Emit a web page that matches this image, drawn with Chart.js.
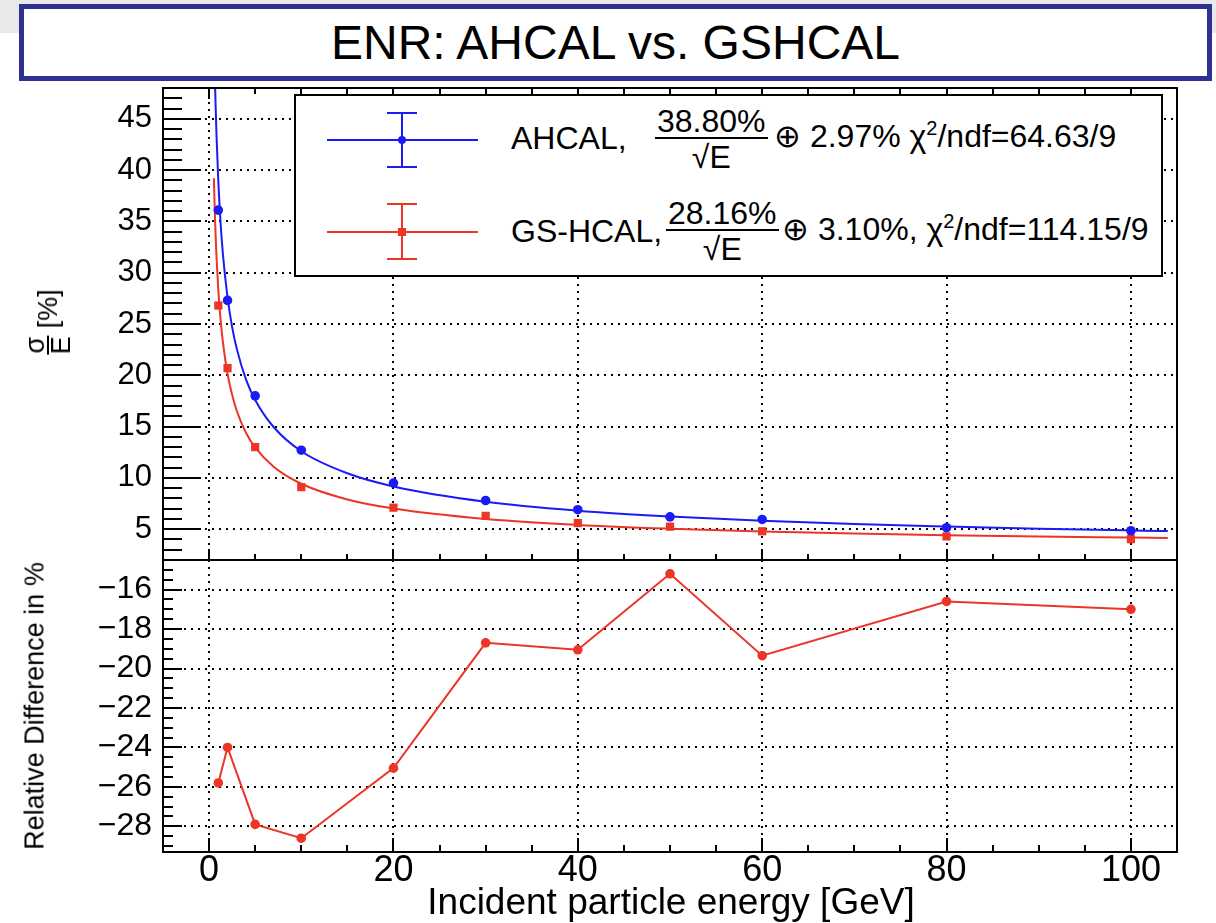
<!DOCTYPE html>
<html>
<head>
<meta charset="utf-8">
<script src="https://cdn.jsdelivr.net/npm/chart.js@4.4.1/dist/chart.umd.min.js"></script>
<style>
  html, body { margin:0; padding:0; background:#fff; }
  body { width:1216px; height:923px; position:relative; overflow:hidden; font-family:'Liberation Sans', Arial, sans-serif; color:#000; }
  #band { position:absolute; left:0; top:0; width:1216px; height:33px; background:#e9e9e9; }
  #titlebox { position:absolute; left:19px; top:4px; width:1193px; height:77px; box-sizing:border-box; border:5px solid #2e3192; background:#fff;
    text-align:center; font-size:48px; line-height:67px; white-space:nowrap; }
  canvas { position:absolute; left:0; top:0; }
  #legend { position:absolute; left:294px; top:94px; width:869px; height:183px; box-sizing:border-box; border:2px solid #000; background:#fff; z-index:5; }
  .abs { position:absolute; }
  .txt { position:absolute; font-size:32px; line-height:32px; white-space:nowrap; transform:translateY(-50%); }
  .frac { position:absolute; display:flex; flex-direction:column; align-items:center; font-size:32px; line-height:32px; }
  .frac .num { border-bottom:2.5px solid #000; padding:0 2px; }
  .frac .den { padding-top:2px; }
  .sup { font-size:20px; position:relative; top:-12px; }
  #ytitle1 { position:absolute; left:48px; top:322px; transform:translate(-50%,-50%) rotate(-90deg); display:flex; align-items:center; white-space:nowrap; font-size:27px; z-index:5; }
  #ytitle1 .f { display:flex; flex-direction:column; align-items:center; line-height:24px; }
  #ytitle1 .f .n { border-bottom:2px solid #000; padding:0 1px; }
  #ytitle2 { position:absolute; left:35px; top:706px; transform:translate(-50%,-50%) rotate(-90deg); white-space:nowrap; font-size:27px; line-height:27px; }
  #xtitle { position:absolute; left:671px; top:901px; transform:translate(-50%,-50%); white-space:nowrap; font-size:37px; line-height:37px; }
</style>
</head>
<body>
<div id="band"></div>
<div id="titlebox">ENR: AHCAL vs. GSHCAL</div>
<canvas id="cTop" width="1216" height="923"></canvas>
<canvas id="cBot" width="1216" height="923"></canvas>

<div id="legend">
  <!-- AHCAL symbol -->
  <div class="abs" style="left:31px;top:43px;width:151px;height:2px;background:#1b1bf5"></div>
  <div class="abs" style="left:105px;top:17px;width:2px;height:54px;background:#1b1bf5"></div>
  <div class="abs" style="left:91px;top:16px;width:30px;height:2px;background:#1b1bf5"></div>
  <div class="abs" style="left:91px;top:70px;width:30px;height:2px;background:#1b1bf5"></div>
  <div class="abs" style="left:102px;top:40px;width:8px;height:8px;border-radius:50%;background:#1b1bf5"></div>
  <div class="txt" style="left:215px;top:42px">AHCAL,</div>
  <div class="frac" style="left:359px;top:9px"><span class="num">38.80%</span><span class="den">√E</span></div>
  <div class="txt" style="left:478px;top:42px">⊕ 2.97% χ<span class="sup">2</span>/ndf=64.63/9</div>
  <!-- GS-HCAL symbol -->
  <div class="abs" style="left:31px;top:135px;width:151px;height:2px;background:#ec3427"></div>
  <div class="abs" style="left:105px;top:108px;width:2px;height:55px;background:#ec3427"></div>
  <div class="abs" style="left:91px;top:107px;width:30px;height:2px;background:#ec3427"></div>
  <div class="abs" style="left:91px;top:162px;width:30px;height:2px;background:#ec3427"></div>
  <div class="abs" style="left:102px;top:132px;width:8px;height:8px;background:#ec3427"></div>
  <div class="txt" style="left:215px;top:135px">GS-HCAL,</div>
  <div class="frac" style="left:370px;top:101px"><span class="num">28.16%</span><span class="den">√E</span></div>
  <div class="txt" style="left:486px;top:135px">⊕ 3.10%, χ<span class="sup">2</span>/ndf=114.15/9</div>
</div>

<div id="ytitle1"><span class="f"><span class="n">σ</span><span>E</span></span><span>&nbsp;[%]</span></div>
<div id="ytitle2">Relative Difference in %</div>
<div id="xtitle">Incident particle energy [GeV]</div>

<script>
// ---- data ----
const energies  = [1, 2, 5, 10, 20, 30, 40, 50, 60, 80, 100];
const ahcal     = [36.1, 27.3, 18.0, 12.7, 9.5, 7.8, 6.9, 6.2, 5.95, 5.15, 4.85];
const gshcal    = [26.8, 20.7, 13.0, 9.1, 7.1, 6.3, 5.6, 5.25, 4.8, 4.3, 4.03];
const relDiff   = [-25.8, -24.0, -27.9, -28.6, -25.05, -18.7, -19.05, -15.2, -19.35, -16.6, -17.0];

// fit curves
const fitEnergy = [0.52, 0.62, 0.7, 0.8, 1, 1.25, 1.5, 2, 2.5, 3, 4, 5, 7, 10, 15, 20, 30, 40, 50, 60, 70, 80, 90, 100, 104];
const ahcalFit  = [53.9, 49.4, 46.5, 43.5, 38.9, 34.8, 31.8, 27.6, 24.7, 22.6, 19.6, 17.6, 14.96, 12.6, 10.45, 9.17, 7.68, 6.81, 6.24, 5.82, 5.5, 5.26, 5.05, 4.88, 4.82];
const gshcalFit = [39.2, 35.9, 33.8, 31.6, 28.3, 25.4, 23.2, 20.15, 18.1, 16.55, 14.4, 12.97, 11.09, 9.43, 7.9, 7.02, 6.0, 5.42, 5.05, 4.78, 4.58, 4.42, 4.29, 4.19, 4.15];

// tick labels
const xTicks     = [0, 20, 40, 60, 80, 100];
const upperTicks = [5, 10, 15, 20, 25, 30, 35, 40, 45];
const lowerTicks = [-28, -26, -24, -22, -20, -18, -16];

const BLUE = '#1b1bf5';
const RED  = '#ec3427';
const FONT = "'Liberation Sans', Arial, sans-serif";

const pts = (xs, ys) => xs.map((x, i) => ({x, y: ys[i]}));

const rootAxes = {
  id: 'rootAxes',
  beforeDatasetsDraw(chart, args, o) {
    const {ctx, chartArea: a, scales: {x, y}} = chart;
    ctx.save();
    ctx.strokeStyle = '#000'; ctx.lineWidth = 2; ctx.setLineDash([2, 5]);
    for (const v of o.xGrid) {
      const p = Math.round(x.getPixelForValue(v));
      ctx.beginPath(); ctx.moveTo(p, a.top); ctx.lineTo(p, a.bottom); ctx.stroke();
    }
    for (const v of o.yGrid) {
      const p = Math.round(y.getPixelForValue(v));
      ctx.beginPath(); ctx.moveTo(a.left, p); ctx.lineTo(a.right, p); ctx.stroke();
    }
    ctx.restore();
  },
  afterDatasetsDraw(chart, args, o) {
    const {ctx, chartArea: a, scales: {x, y}} = chart;
    ctx.save();
    ctx.strokeStyle = '#000'; ctx.lineWidth = 2; ctx.setLineDash([]);
    const isMajor = (v, arr) => arr.some(m => Math.abs(m - v) < 1e-6);
    for (let v = Math.ceil(y.min / o.yMinor) * o.yMinor; v <= y.max + 1e-9; v += o.yMinor) {
      const p = Math.round(y.getPixelForValue(v));
      if (p <= a.top + 1 || p >= a.bottom - 1) continue;
      const len = isMajor(v, o.yMajor) ? o.yMajLen : o.yMinLen;
      ctx.beginPath(); ctx.moveTo(a.left, p); ctx.lineTo(a.left + len, p); ctx.stroke();
    }
    for (let v = Math.ceil(x.min / o.xMinor) * o.xMinor; v <= x.max + 1e-9; v += o.xMinor) {
      const p = Math.round(x.getPixelForValue(v));
      if (p <= a.left + 1 || p >= a.right - 1) continue;
      const len = isMajor(v, o.xMajor) ? o.xMajLen : o.xMinLen;
      ctx.beginPath(); ctx.moveTo(p, a.bottom); ctx.lineTo(p, a.bottom - len); ctx.stroke();
      if (o.topTicks) { ctx.beginPath(); ctx.moveTo(p, a.top); ctx.lineTo(p, a.top + len); ctx.stroke(); }
    }
    ctx.strokeRect(a.left, a.top, a.right - a.left, a.bottom - a.top);
    ctx.restore();
  }
};

const common = { responsive: false, animation: false, devicePixelRatio: 1, events: [] };

new Chart(document.getElementById('cTop'), {
  type: 'scatter',
  plugins: [rootAxes],
  data: {
    datasets: [
      { data: pts(fitEnergy, ahcalFit), showLine: true, borderColor: BLUE, borderWidth: 2, pointRadius: 0, cubicInterpolationMode: 'monotone', clip: 0, order: 3 },
      { data: pts(fitEnergy, gshcalFit), showLine: true, borderColor: RED, borderWidth: 2, pointRadius: 0, cubicInterpolationMode: 'monotone', clip: 0, order: 4 },
      { data: pts(energies, ahcal), showLine: false, pointStyle: 'circle', pointRadius: 4.8, backgroundColor: BLUE, borderColor: BLUE, borderWidth: 0, order: 1 },
      { data: pts(energies, gshcal), showLine: false, pointStyle: 'rect', pointRadius: 5.8, backgroundColor: RED, borderColor: RED, borderWidth: 0, order: 2 }
    ]
  },
  options: {
    ...common,
    layout: { padding: { left: 0, right: 39, top: 88, bottom: 0 } },
    plugins: {
      legend: { display: false }, tooltip: { enabled: false },
      rootAxes: { xGrid: xTicks, yGrid: upperTicks, xMajor: xTicks, xMinor: 5, yMajor: upperTicks, yMinor: 1,
                  yMajLen: 38, yMinLen: 19, xMajLen: 11, xMinLen: 6, topTicks: true }
    },
    scales: {
      x: { type: 'linear', min: -5, max: 105, ticks: { display: false }, grid: { display: false, drawTicks: false }, border: { display: false },
           afterFit(s) { s.height = 363; } },
      y: { type: 'linear', min: 2, max: 48,
           afterBuildTicks(s) { s.ticks = upperTicks.map(v => ({ value: v })); },
           ticks: { color: '#000', font: { family: FONT, size: 31 }, padding: 11 },
           grid: { display: false, drawTicks: false }, border: { display: false },
           afterFit(s) { s.width = 163; } }
    }
  }
});

new Chart(document.getElementById('cBot'), {
  type: 'scatter',
  plugins: [rootAxes],
  data: {
    datasets: [
      { data: pts(energies, relDiff), showLine: true, borderColor: RED, borderWidth: 2, pointStyle: 'circle', pointRadius: 4.8,
        backgroundColor: RED, pointBorderWidth: 0, tension: 0 }
    ]
  },
  options: {
    ...common,
    layout: { padding: { left: 0, right: 39, top: 560, bottom: 0 } },
    plugins: {
      legend: { display: false }, tooltip: { enabled: false },
      rootAxes: { xGrid: xTicks, yGrid: lowerTicks, xMajor: xTicks, xMinor: 5, yMajor: lowerTicks, yMinor: 0.5,
                  yMajLen: 19, yMinLen: 10, xMajLen: 14, xMinLen: 7, topTicks: false }
    },
    scales: {
      x: { type: 'linear', min: -5, max: 105,
           afterBuildTicks(s) { s.ticks = xTicks.map(v => ({ value: v })); },
           ticks: { color: '#000', font: { family: FONT, size: 36 }, padding: -3, maxRotation: 0, autoSkip: false },
           grid: { display: false, drawTicks: false }, border: { display: false },
           afterFit(s) { s.height = 71; } },
      y: { type: 'linear', min: -29.3, max: -14.5,
           afterBuildTicks(s) { s.ticks = lowerTicks.map(v => ({ value: v })); },
           ticks: { color: '#000', font: { family: FONT, size: 32 }, padding: 11,
                    callback: v => (v < 0 ? '\u2212' + Math.abs(v) : String(v)) },
           grid: { display: false, drawTicks: false }, border: { display: false },
           afterFit(s) { s.width = 163; } }
    }
  }
});
</script>
</body>
</html>
